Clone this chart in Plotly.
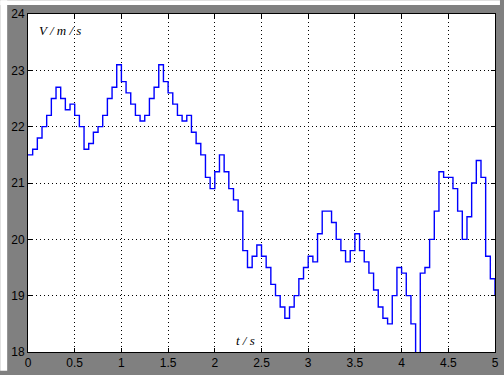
import plotly.graph_objects as go

# Wind speed record sampled every 0.05 s, drawn as a zero-order-hold (stairs) trace
dt = 0.05
speed = [
    21.5, 21.6, 21.8, 22.0, 22.2, 22.5, 22.7, 22.5, 22.3, 22.4,
    22.2, 22.0, 21.6, 21.7, 21.9, 22.0, 22.2, 22.5, 22.7, 23.1,
    22.8, 22.6, 22.4, 22.2, 22.1, 22.2, 22.5, 22.7, 23.1, 22.8,
    22.6, 22.4, 22.2, 22.1, 22.2, 21.9, 21.7, 21.5, 21.1, 20.9,
    21.2, 21.5, 21.2, 20.9, 20.7, 20.5, 19.8, 19.5, 19.7, 19.9,
    19.7, 19.5, 19.2, 19.0, 18.8, 18.6, 18.8, 19.0, 19.3, 19.5,
    19.7, 19.6, 20.1, 20.5, 20.5, 20.3, 20.0, 19.8, 19.6, 19.8,
    20.1, 19.8, 19.6, 19.4, 19.1, 18.8, 18.6, 18.5, 19.0, 19.5,
    19.4, 19.0, 18.5, 17.7, 19.4, 19.5, 20.0, 20.5, 21.2, 21.1,
    21.1, 20.9, 20.5, 20.0, 20.4, 21.0, 21.4, 21.1, 19.7, 19.3,
    19.0,
]
time = [round(i * dt, 2) for i in range(len(speed))]

x_ticks = [0, 0.5, 1, 1.5, 2, 2.5, 3, 3.5, 4, 4.5, 5]
x_tick_text = ["0", "0.5", "1", "1.5", "2", "2.5", "3", "3.5", "4", "4.5", "5"]
y_ticks = [18, 19, 20, 21, 22, 23, 24]
y_tick_text = ["18", "19", "20", "21", "22", "23", "24"]

W, H = 504, 375
ML, MR, MT, MB = 28, 5, 14, 19
GRAY = "#808080"

fig = go.Figure()
fig.add_trace(go.Scatter(
    x=time, y=speed, mode="lines",
    line=dict(color="#0000ff", width=1.4, shape="hv"),
    hoverinfo="skip", showlegend=False,
))

axis_common = dict(
    showline=True, linecolor="black", linewidth=1, mirror="allticks",
    ticks="inside", ticklen=4, tickcolor="black", tickwidth=1,
    showgrid=True, gridcolor="black", gridwidth=1, griddash="1px,3px",
    zeroline=False,
    tickfont=dict(family="Liberation Sans, Arial, sans-serif", size=12, color="black"),
)

fig.update_xaxes(range=[0, 5], tickvals=x_ticks, ticktext=x_tick_text,
                 ticklabelstandoff=0, **axis_common)
fig.update_yaxes(range=[18, 24], tickvals=y_ticks, ticktext=y_tick_text,
                 **axis_common)

label_font = dict(family="Liberation Serif, Times New Roman, serif", size=13,
                  color="black", style="italic")
fig.add_annotation(x=0.1, y=23.7, xref="x", yref="y", text="V / m / s",
                   showarrow=False, xanchor="left", yanchor="middle", font=label_font)
fig.add_annotation(x=2.33, y=18.2, xref="x", yref="y", text="t / s",
                   showarrow=False, xanchor="center", yanchor="middle", font=label_font)

# light border strips along the top and left edges of the figure window
pw = W - ML - MR
ph = H - MT - MB
fig.add_shape(type="rect", xref="paper", yref="paper", layer="above",
              x0=-ML / pw, x1=(W - ML) / pw, y0=1 + (MT - 5) / ph, y1=1 + MT / ph,
              fillcolor="white", line=dict(width=0))
fig.add_shape(type="rect", xref="paper", yref="paper", layer="above",
              x0=-ML / pw, x1=-(ML - 7) / pw, y0=-MB / ph, y1=1 + MT / ph,
              fillcolor="white", line=dict(width=0))

fig.update_layout(
    width=W, height=H,
    margin=dict(l=ML, r=MR, t=MT, b=MB, pad=0),
    paper_bgcolor=GRAY, plot_bgcolor="white",
    showlegend=False,
)

fig.write_html("out.html", config={"displayModeBar": False})
